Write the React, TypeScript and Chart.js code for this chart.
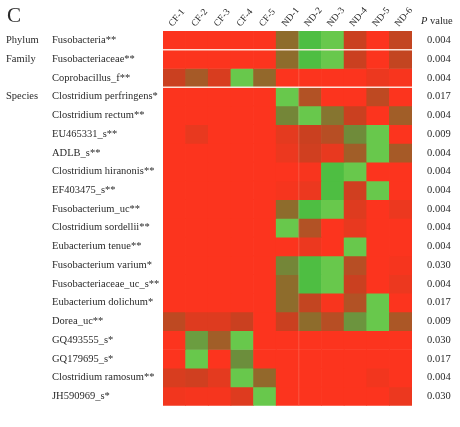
import { useEffect, useRef } from 'react';
import { Chart, registerables } from 'chart.js';

Chart.register(...registerables);

// ---------- data ----------
const samples = ['CF-1', 'CF-2', 'CF-3', 'CF-4', 'CF-5', 'ND-1', 'ND-2', 'ND-3', 'ND-4', 'ND-5', 'ND-6'];

const taxa = [
  'Fusobacteria**',
  'Fusobacteriaceae**',
  'Coprobacillus_f**',
  'Clostridium perfringens*',
  'Clostridium rectum**',
  'EU465331_s**',
  'ADLB_s**',
  'Clostridium hiranonis**',
  'EF403475_s**',
  'Fusobacterium_uc**',
  'Clostridium sordellii**',
  'Eubacterium tenue**',
  'Fusobacterium varium*',
  'Fusobacteriaceae_uc_s**',
  'Eubacterium dolichum*',
  'Dorea_uc**',
  'GQ493555_s*',
  'GQ179695_s*',
  'Clostridium ramosum**',
  'JH590969_s*',
];

const ranks = ['Phylum', 'Family', '', 'Species', '', '', '', '', '', '', '', '', '', '', '', '', '', '', '', ''];

const pValues = [
  '0.004', '0.004', '0.004', '0.017', '0.004', '0.009', '0.004', '0.004', '0.004', '0.004',
  '0.004', '0.004', '0.030', '0.004', '0.017', '0.009', '0.030', '0.017', '0.004', '0.030',
];

// relative abundance score per taxon (row) and sample (column): 0 = red (low) ... 1 = green (high)
const heatValues: number[][] = [
  [0, 0, 0, 0, 0, 0.5, 1.0, 0.9, 0.25, 0, 0.28],
  [0, 0, 0, 0, 0, 0.5, 1.0, 0.9, 0.25, 0, 0.28],
  [0.25, 0.4, 0.18, 0.9, 0.48, 0, 0, 0, 0, 0.08, 0.02],
  [0, 0, 0, 0, 0, 0.9, 0.35, 0, 0, 0.3, 0],
  [0, 0, 0, 0, 0, 0.65, 0.9, 0.55, 0.25, 0, 0.42],
  [0, 0.1, 0, 0, 0, 0.12, 0.25, 0.33, 0.68, 0.9, 0],
  [0, 0, 0, 0, 0, 0.08, 0.22, 0.1, 0.42, 0.9, 0.4],
  [0, 0, 0, 0, 0, 0, 0.02, 1.0, 0.9, 0, 0],
  [0, 0, 0, 0, 0, 0.03, 0.08, 1.0, 0.22, 0.9, 0],
  [0, 0, 0, 0, 0, 0.5, 1.0, 0.9, 0.15, 0, 0.08],
  [0, 0, 0, 0, 0, 0.9, 0.35, 0, 0.1, 0, 0],
  [0, 0, 0, 0, 0, 0, 0.08, 0, 0.9, 0, 0],
  [0, 0, 0, 0, 0, 0.65, 1.0, 0.9, 0.33, 0, 0.03],
  [0, 0, 0, 0, 0, 0.5, 1.0, 0.9, 0.25, 0, 0.08],
  [0, 0, 0, 0, 0, 0.5, 0.28, 0.02, 0.35, 0.9, 0],
  [0.3, 0.15, 0.15, 0.25, 0, 0.25, 0.5, 0.33, 0.72, 0.9, 0.38],
  [0, 0.75, 0.42, 0.9, 0, 0, 0, 0, 0, 0, 0],
  [0, 0.9, 0, 0.7, 0, 0, 0, 0, 0, 0, 0],
  [0.18, 0.22, 0.12, 0.9, 0.48, 0, 0, 0, 0, 0.05, 0],
  [0.05, 0.03, 0.03, 0.15, 0.9, 0, 0, 0, 0, 0, 0.08],
];

// row boundaries after which a group separator is drawn
const separatorRows = [1, 3];
// column boundary with a faint divider (between ND-1 and ND-2)
const dividerColumns = [5];

// ---------- styles ----------
const colorStops: [number, number[]][] = [
  [0, [252, 52, 30]],
  [0.25, [202, 64, 32]],
  [0.5, [142, 108, 44]],
  [0.7, [108, 142, 60]],
  [0.9, [104, 200, 76]],
  [1.0, [78, 190, 66]],
];

function valueToColor(v: number): string {
  for (let i = 0; i < colorStops.length - 1; i++) {
    const [a, ca] = colorStops[i];
    const [b, cb] = colorStops[i + 1];
    if (v <= b) {
      const t = (v - a) / (b - a);
      const c = ca.map((x, k) => Math.round(x + (cb[k] - x) * t));
      return `rgb(${c[0]},${c[1]},${c[2]})`;
    }
  }
  const c = colorStops[colorStops.length - 1][1];
  return `rgb(${c[0]},${c[1]},${c[2]})`;
}

const FONT = "'Liberation Serif', 'DejaVu Serif', serif";
const TEXT = '#2a2a2a';

const separatorPlugin = {
  id: 'separators',
  afterDatasetsDraw(chart: any) {
    const { ctx, chartArea, scales } = chart;
    const x = scales.x;
    const y = scales.y;
    ctx.save();
    ctx.strokeStyle = 'rgba(255,236,228,0.95)';
    ctx.lineWidth = 1.5;
    separatorRows.forEach((r) => {
      const py = y.getPixelForValue(r);
      ctx.beginPath();
      ctx.moveTo(chartArea.left, py);
      ctx.lineTo(chartArea.right, py);
      ctx.stroke();
    });
    ctx.strokeStyle = 'rgba(255,235,225,0.2)';
    ctx.lineWidth = 1;
    dividerColumns.forEach((c) => {
      const px = (x.getPixelForValue(c) + x.getPixelForValue(c + 1)) / 2;
      ctx.beginPath();
      ctx.moveTo(px, chartArea.top);
      ctx.lineTo(px, chartArea.bottom);
      ctx.stroke();
    });
    ctx.restore();
  },
};

export default function App() {
  const canvasRef = useRef<HTMLCanvasElement | null>(null);

  useEffect(() => {
    if (!canvasRef.current) return;
    const datasets = heatValues.map((row, r) => ({
      label: taxa[r],
      data: row.map(() => [r, r + 1]),
      backgroundColor: row.map((v) => valueToColor(v)),
      borderWidth: 0,
      grouped: false,
      barPercentage: 1,
      categoryPercentage: 1,
      xAxisID: 'x',
      yAxisID: 'y',
    }));

    const tickFont = { family: FONT, size: 10.5 };
    const noGrid = { display: false, drawTicks: false };

    const chart = new Chart(canvasRef.current, {
      type: 'bar',
      data: { labels: samples, datasets: datasets as any },
      options: {
        animation: false,
        responsive: false,
        maintainAspectRatio: false,
        layout: { padding: { left: 6, right: 0, top: 0, bottom: 13 } },
        plugins: { legend: { display: false }, tooltip: { enabled: false } },
        scales: {
          x: {
            type: 'category',
            position: 'top',
            offset: true,
            grid: noGrid,
            border: { display: false },
            ticks: {
              autoSkip: false,
              minRotation: 50,
              maxRotation: 50,
              padding: 2,
              labelOffset: 5,
              color: TEXT,
              font: { family: FONT, size: 9.5 },
            },
            afterFit: (s: any) => {
              s.height = 31;
            },
          },
          y: { type: 'linear', min: 0, max: 20, reverse: true, display: false },
          names: {
            type: 'category',
            labels: taxa,
            position: 'left',
            offset: true,
            weight: 0,
            grid: noGrid,
            border: { display: false },
            ticks: { autoSkip: false, crossAlign: 'far', padding: 0, color: TEXT, font: tickFont },
            afterFit: (s: any) => {
              s.width = 111;
            },
          },
          ranks: {
            type: 'category',
            labels: ranks,
            position: 'left',
            offset: true,
            weight: 1,
            grid: noGrid,
            border: { display: false },
            ticks: { autoSkip: false, crossAlign: 'far', padding: 0, color: TEXT, font: tickFont },
            afterFit: (s: any) => {
              s.width = 46;
            },
          },
          pv: {
            type: 'category',
            labels: pValues,
            position: 'right',
            offset: true,
            grid: noGrid,
            border: { display: false },
            ticks: { autoSkip: false, crossAlign: 'near', padding: 15, color: TEXT, font: tickFont },
            afterFit: (s: any) => {
              s.width = 48;
            },
          },
        } as any,
      },
      plugins: [separatorPlugin],
    });
    return () => chart.destroy();
  }, []);

  return (
    <div style={{ position: 'fixed', left: 0, top: 0, width: 460, height: 427, background: '#fff' }}>
      <canvas ref={canvasRef} width={460} height={427} style={{ display: 'block' }} />
      <div
        style={{
          position: 'absolute',
          left: 7,
          top: 3,
          fontFamily: FONT,
          fontSize: 21,
          color: TEXT,
          lineHeight: '24px',
        }}
      >
        C
      </div>
      <div
        style={{
          position: 'absolute',
          left: 421,
          top: 15,
          fontFamily: FONT,
          fontSize: 10.5,
          color: TEXT,
          lineHeight: '12px',
          whiteSpace: 'nowrap',
        }}
      >
        <i>P</i> value
      </div>
    </div>
  );
}
